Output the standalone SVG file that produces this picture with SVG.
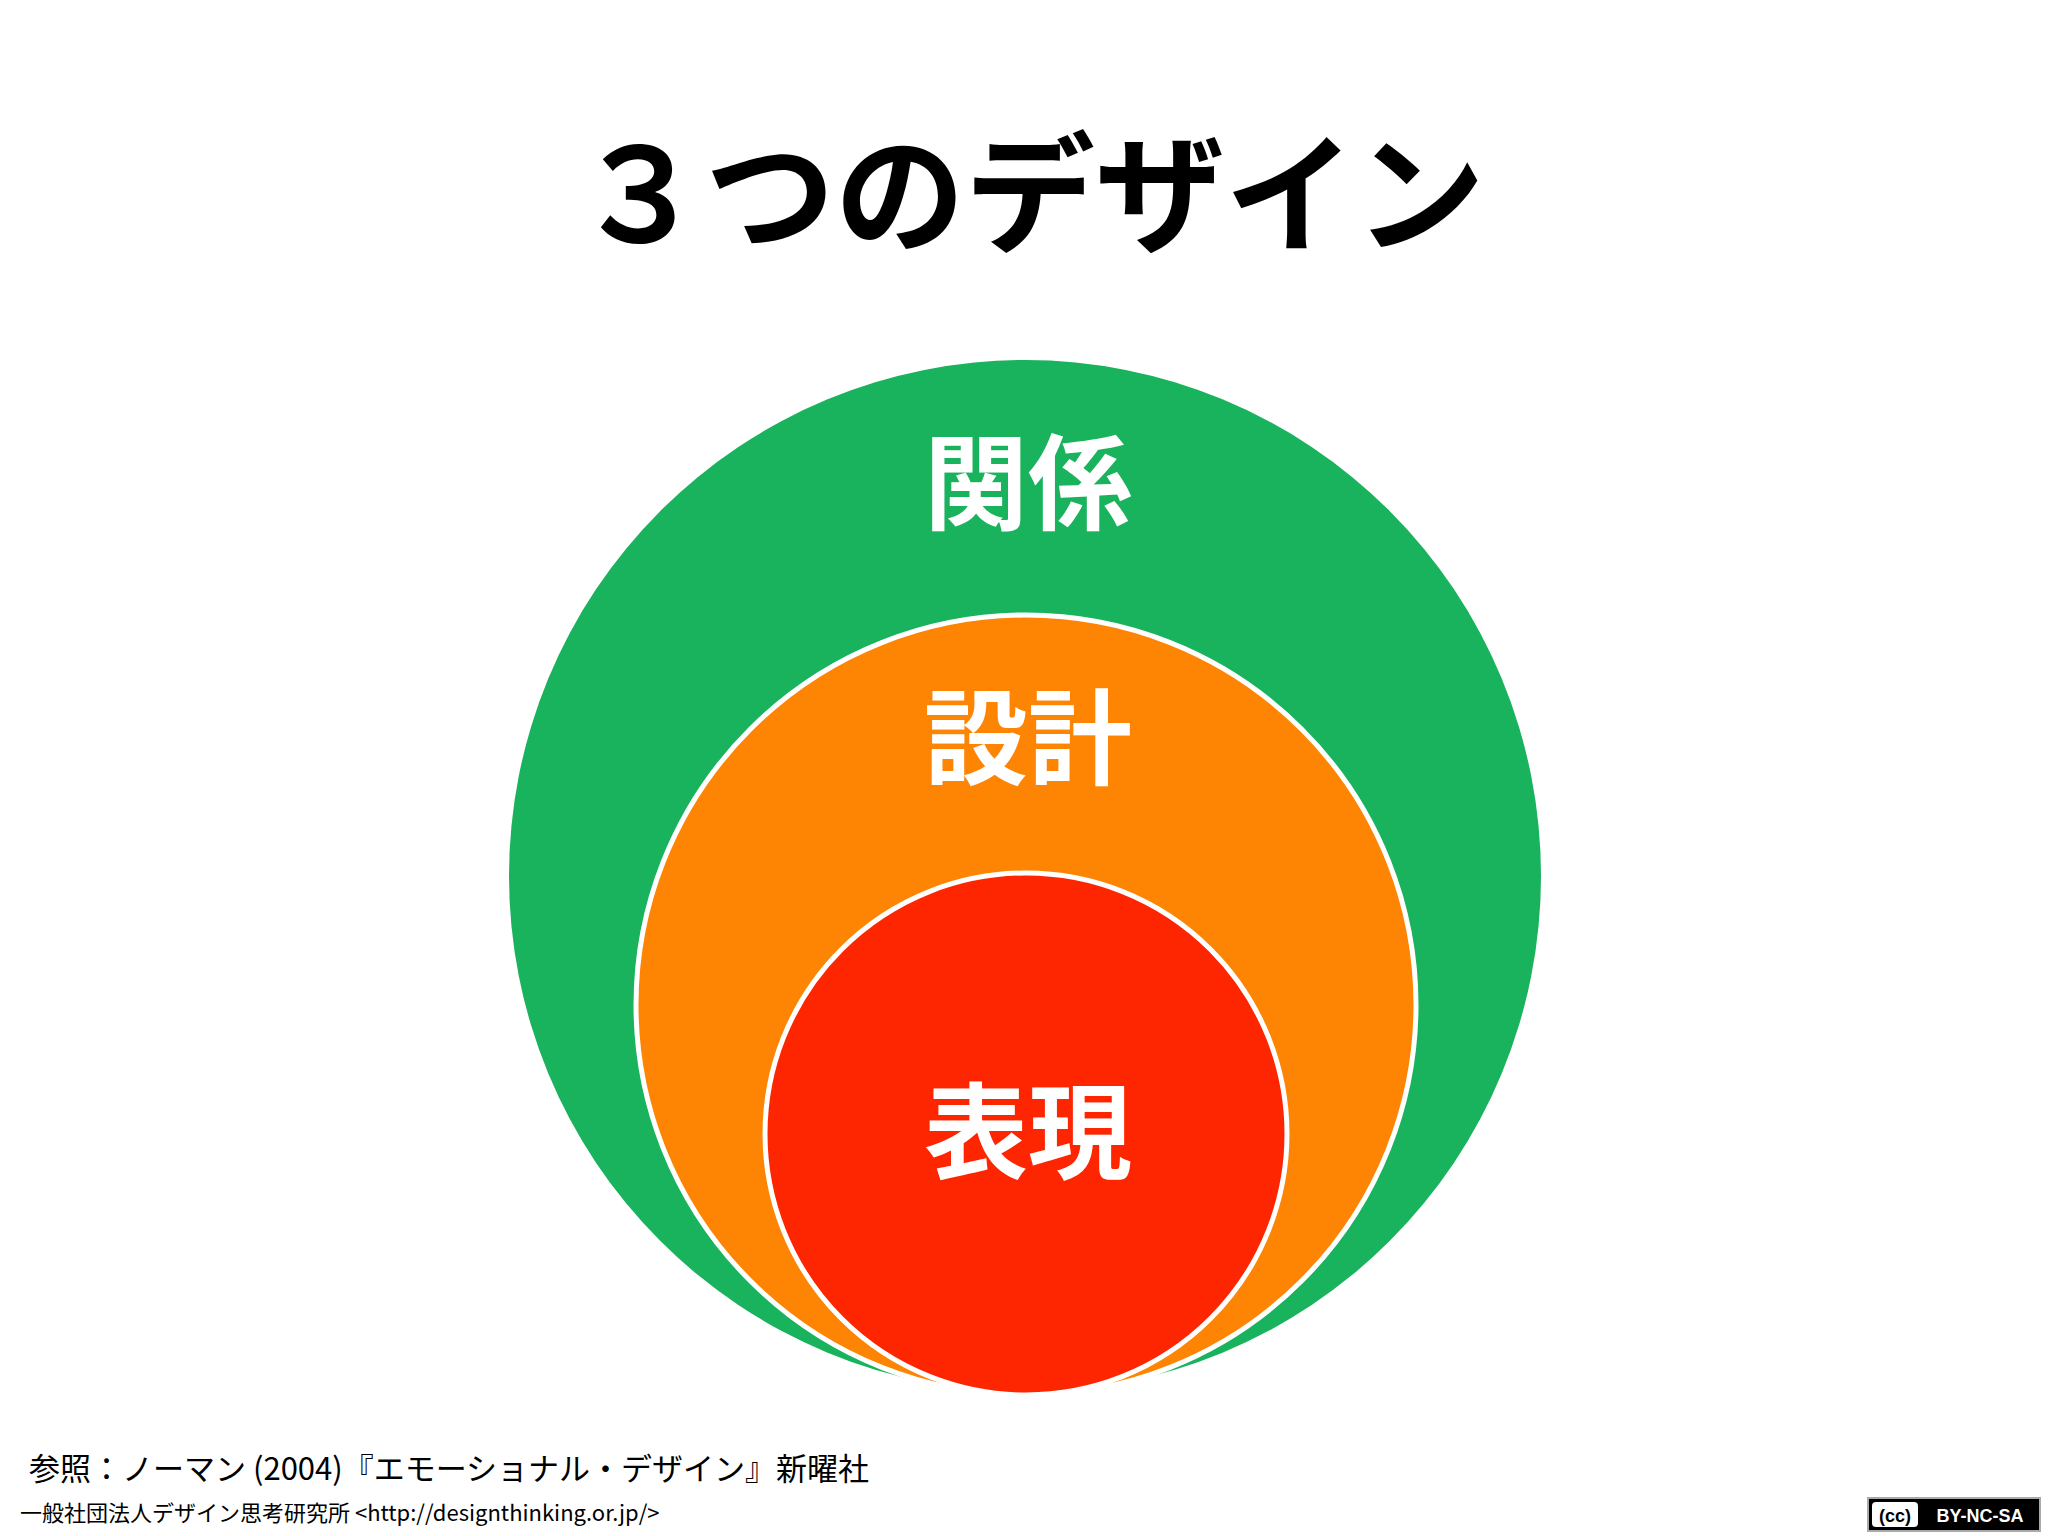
<svg xmlns="http://www.w3.org/2000/svg" width="2048" height="1536" viewBox="0 0 2048 1536">
<style>
.j{font-family:"Noto Sans CJK JP","Liberation Sans",sans-serif}
.lbl{fill:#fff;font-weight:bold;font-size:104px;text-anchor:middle}
.c{stroke:#fff;stroke-width:5}
</style>
<rect width="2048" height="1536" fill="#fff"/>
<text class="j" x="1030" y="242" font-size="130" font-weight="bold" text-anchor="middle" fill="#000">３つのデザイン</text>
<g id="outer"><circle cx="1025" cy="876" r="516" fill="#19b25d"/><text class="j lbl" x="1028" y="522">関係</text></g>
<g id="middle"><circle class="c" cx="1026" cy="1005" r="390" fill="#fe8503"/><text class="j lbl" x="1028" y="777">設計</text></g>
<g id="inner"><circle class="c" cx="1026" cy="1134" r="261" fill="#fe2501"/><text class="j lbl" x="1028" y="1171">表現</text></g>
<g id="connectors"/>
<text class="j" x="29" y="1480" font-size="31" fill="#000">参照：ノーマン (2004)『エモーショナル・デザイン』新曜社</text>
<text class="j" x="20" y="1521" font-size="22" fill="#000">一般社団法人デザイン思考研究所 &lt;http://designthinking.or.jp/&gt;</text>
<g id="cc">
<rect x="1868" y="1498" width="172" height="33" fill="#000" stroke="#aaa" stroke-width="2"/>
<rect x="1872" y="1502" width="46" height="25" fill="#fff" rx="4"/>
<text x="1895" y="1522" font-family="Liberation Sans,sans-serif" font-size="18" font-weight="bold" text-anchor="middle">(cc)</text>
<text x="1980" y="1522" font-family="Liberation Sans,sans-serif" font-size="18" font-weight="bold" fill="#fff" text-anchor="middle">BY-NC-SA</text>
</g>
</svg>
